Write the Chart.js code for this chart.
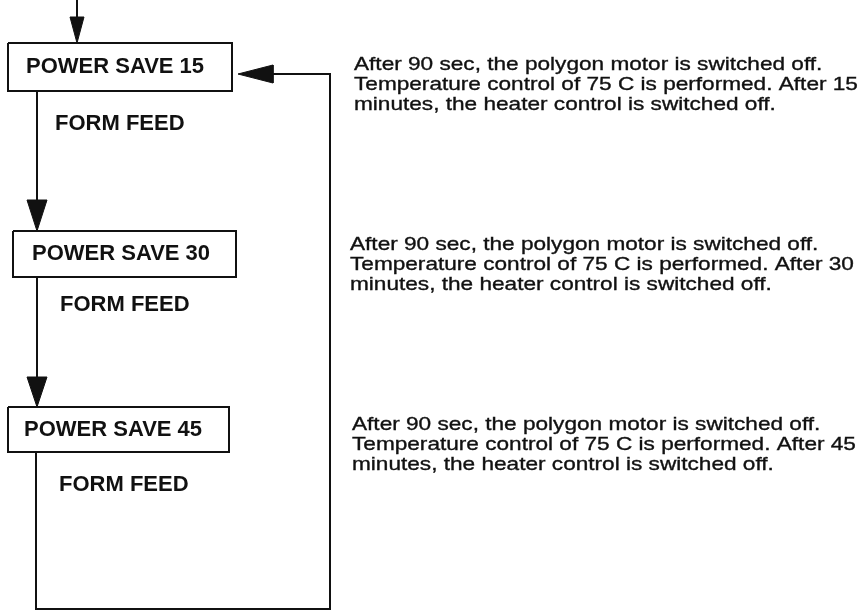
<!DOCTYPE html>
<html>
<head>
  <script src="https://cdn.jsdelivr.net/npm/chart.js"></script>
  <style>
    body { margin: 0; background: #fff; }
  </style>
</head>
<body>

<canvas id="chart" width="861" height="613"></canvas>

<script>
// flow steps (page units, 1 unit = 1 px, y grows downward)
const steps = ["POWER SAVE 15", "POWER SAVE 30", "POWER SAVE 45"];
const boxLeft = [8, 13, 8];
const boxRight = [232, 236, 229];
const boxTop = [43, 231, 407];
const boxBottom = [91, 277, 452];
const stepTextX = [26, 32, 24];

const feedLabel = "FORM FEED";
const feedX = [55, 60, 59];
const feedY = [124, 305, 485];

const notes = [
  ["After 90 sec, the polygon motor is switched off.",
   "Temperature control of 75 C is performed. After 15",
   "minutes, the heater control is switched off."],
  ["After 90 sec, the polygon motor is switched off.",
   "Temperature control of 75 C is performed. After 30",
   "minutes, the heater control is switched off."],
  ["After 90 sec, the polygon motor is switched off.",
   "Temperature control of 75 C is performed. After 45",
   "minutes, the heater control is switched off."]
];
const noteX = [354, 350, 352];
const noteY = [65, 245, 425];

// connectors: [x, y] vertices
const flowLines = [
  [[77, 0], [77, 20]],
  [[37, 91], [37, 205]],
  [[37, 277], [37, 380]],
  [[36, 452], [36, 609], [330, 609], [330, 74], [270, 74]]
];
// arrow heads: tip x, tip y, direction, length, half width
const arrowTips = [
  [77, 43, "down", 26, 7],
  [37, 231, "down", 31, 10],
  [37, 407, "down", 30, 10],
  [238, 74, "left", 35, 9]
];

const pt = (p) => ({ x: p[0], y: p[1] });

const datasets = [];

steps.forEach((s, i) => {
  datasets.push({
    data: [
      { x: boxLeft[i], y: boxTop[i] }, { x: boxRight[i], y: boxTop[i] },
      { x: boxRight[i], y: boxBottom[i] }, { x: boxLeft[i], y: boxBottom[i] },
      { x: boxLeft[i], y: boxTop[i] }
    ],
    showLine: true, borderColor: "#111", borderWidth: 2, pointRadius: 0, fill: false
  });
});

flowLines.forEach(l => {
  datasets.push({
    data: l.map(pt),
    showLine: true, borderColor: "#111", borderWidth: 2, pointRadius: 0, fill: false
  });
});

arrowTips.forEach(a => {
  const [x, y, dir, len, hw] = a;
  let tri;
  if (dir === "down") tri = [[x, y], [x - hw, y - len], [x + hw, y - len], [x, y]];
  else tri = [[x, y], [x + len, y - hw], [x + len, y + hw], [x, y]];
  datasets.push({
    data: tri.map(pt),
    showLine: true, borderColor: "#111", borderWidth: 1, pointRadius: 0,
    backgroundColor: "#111", fill: "shape"
  });
});

const textPlugin = {
  id: "flowText",
  afterDraw(chart) {
    const ctx = chart.ctx;
    const sx = chart.scales.x, sy = chart.scales.y;
    ctx.save();
    ctx.fillStyle = "#111";
    ctx.strokeStyle = "#111";
    ctx.textBaseline = "middle";
    ctx.textAlign = "left";
    ctx.font = "bold 22px 'Liberation Sans', Arial, sans-serif";
    steps.forEach((s, i) => {
      const cy = (boxTop[i] + boxBottom[i]) / 2;
      ctx.fillText(s, sx.getPixelForValue(stepTextX[i]), sy.getPixelForValue(cy));
      ctx.fillText(feedLabel, sx.getPixelForValue(feedX[i]), sy.getPixelForValue(feedY[i]));
    });
    // the scanned note text is wide and short, so stretch it a bit
    ctx.font = "19px 'Liberation Sans', Arial, sans-serif";
    ctx.lineWidth = 0.35;
    const stretch = 1.19;
    notes.forEach((lines, i) => {
      lines.forEach((t, j) => {
        ctx.save();
        ctx.translate(sx.getPixelForValue(noteX[i]), sy.getPixelForValue(noteY[i] + j * 20));
        ctx.scale(stretch, 1);
        ctx.fillText(t, 0, 0);
        ctx.strokeText(t, 0, 0);
        ctx.restore();
      });
    });
    ctx.restore();
  }
};

new Chart(document.getElementById("chart"), {
  type: "scatter",
  data: { datasets: datasets },
  options: {
    responsive: false,
    animation: false,
    devicePixelRatio: 1,
    layout: { padding: 0 },
    plugins: { legend: { display: false }, tooltip: { enabled: false } },
    scales: {
      x: { type: "linear", min: 0, max: 861, display: false },
      y: { type: "linear", min: 0, max: 613, reverse: true, display: false }
    }
  },
  plugins: [textPlugin]
});
</script>

</body>
</html>
